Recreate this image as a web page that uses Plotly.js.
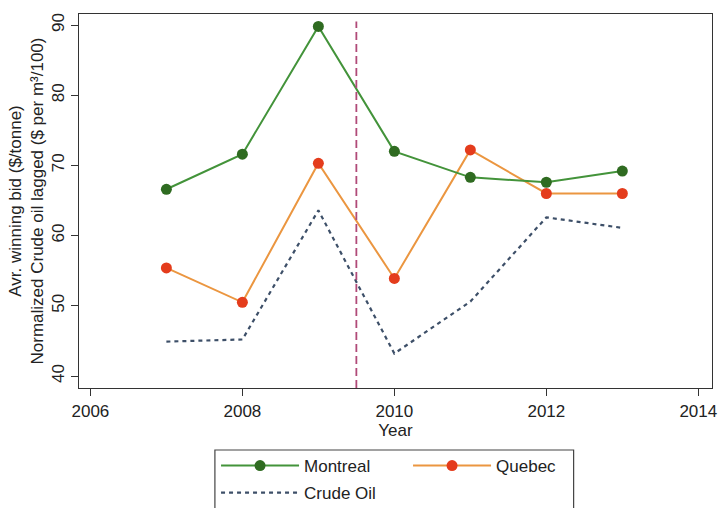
<!DOCTYPE html>
<html>
<head>
<meta charset="utf-8">
<script src="https://cdn.plot.ly/plotly-3.0.1.min.js"></script>
<style>html,body{margin:0;padding:0;background:#fff;}#chart{width:720px;height:508px;}</style>
</head>
<body>
<div id="chart"></div>
<script>
const years = [2007, 2008, 2009, 2010, 2011, 2012, 2013];
const montreal = [66.6, 71.6, 89.8, 72.0, 68.3, 67.6, 69.2];
const quebec = [55.4, 50.5, 70.3, 53.9, 72.2, 66.0, 66.0];
const crudeOil = [44.9, 45.2, 63.6, 43.2, 50.6, 62.6, 61.1];
const xTicks = [2006, 2008, 2010, 2012, 2014];
const yTicks = [40, 50, 60, 70, 80, 90];
const breakYear = 2009.5;

const font = 'Liberation Sans, Arial, sans-serif';
const traces = [
  {x: years, y: crudeOil, name: 'Crude Oil', mode: 'lines', legend: 'legend2',
   line: {color: '#3d4f68', width: 2.2, dash: '4px,4px'}},
  {x: years, y: quebec, name: 'Quebec', mode: 'lines+markers', legendrank: 2, legendwidth: 75,
   line: {color: '#eb9640', width: 2}, marker: {color: '#e43c1c', size: 11}},
  {x: years, y: montreal, name: 'Montreal', mode: 'lines+markers', legendrank: 1, legendwidth: 99,
   line: {color: '#43933a', width: 2}, marker: {color: '#2f6b21', size: 11}}
];
const legendBase = {orientation: 'h', x: 0.2165, xanchor: 'left', yanchor: 'top',
  itemwidth: 78, borderwidth: 0, bgcolor: 'rgba(0,0,0,0)', font: {size: 17, color: '#222'}};
const layout = {
  width: 720, height: 508,
  margin: {l: 79, r: 8, t: 14, b: 120, autoexpand: false},
  paper_bgcolor: '#fff', plot_bgcolor: '#fff',
  font: {family: font, size: 17, color: '#222'},
  showlegend: true,
  legend: Object.assign({}, legendBase, {y: -0.1605}),
  legend2: Object.assign({}, legendBase, {y: -0.2326}),
  xaxis: {range: [2005.85, 2014.18], tickvals: xTicks, ticktext: xTicks.map(String),
    showgrid: false, zeroline: false, ticks: 'outside', ticklen: 7, tickcolor: '#333',
    showline: true, linecolor: '#333', linewidth: 1.3, mirror: true,
    tickfont: {size: 17}, title: {text: 'Year', font: {size: 17}, standoff: 2}},
  yaxis: {range: [38.29, 91.57], tickvals: yTicks, ticktext: yTicks.map(String), tickangle: -90,
    showgrid: false, zeroline: false, ticks: 'outside', ticklen: 7, tickcolor: '#333',
    showline: true, linecolor: '#333', linewidth: 1.3, mirror: true,
    tickfont: {size: 17},
    title: {text: 'Avr. winning bid ($/tonne)<br>Normalized Crude oil lagged ($ per m\u00b3/100)', font: {size: 17}}},
  shapes: [
    {type: 'line', xref: 'x', yref: 'paper', x0: breakYear, x1: breakYear, y0: 0, y1: 0.98,
     line: {color: '#b04a78', width: 1.8, dash: '8px,4px'}},
    {type: 'rect', xref: 'paper', yref: 'paper', x0: 0.2147, x1: 0.7814, y0: -0.1658, y1: -0.40,
     line: {color: '#444', width: 1.2}, fillcolor: 'rgba(0,0,0,0)'}
  ]
};
Plotly.newPlot('chart', traces, layout, {staticPlot: true});
</script>
</body>
</html>
